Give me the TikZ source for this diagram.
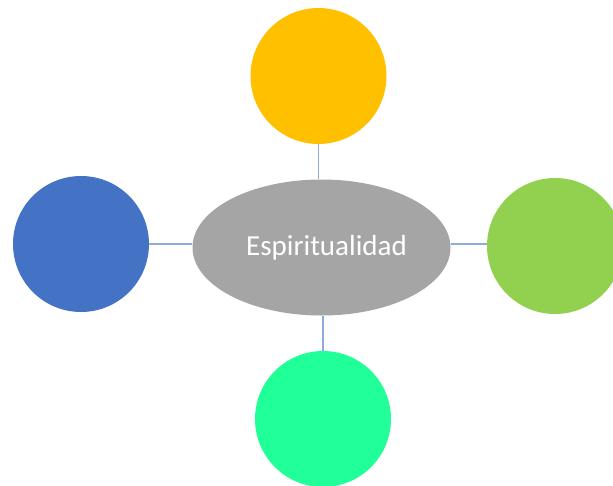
\documentclass[tikz,border=0pt]{standalone}
\usepackage{fontspec}
\setmainfont{Carlito}
\usetikzlibrary{shapes.geometric}
\definecolor{cyel}{HTML}{FFC000}
\definecolor{cblu}{HTML}{4472C4}
\definecolor{cgrn}{HTML}{92D050}
\definecolor{cmint}{HTML}{21FF99}
\definecolor{cgry}{HTML}{A5A5A5}
\definecolor{cline}{HTML}{8FAADC}
\begin{document}
\begin{tikzpicture}[x=1pt,y=-1pt,
  ball/.style={circle,minimum size=136pt,inner sep=0pt},
  conn/.style={draw=cline,line width=1.5pt}]
\useasboundingbox (0,0) rectangle (613,485);
\node[ellipse,fill=cgry,minimum width=258pt,minimum height=136pt,inner sep=0pt,
  text=white,font=\fontsize{29}{34}\selectfont] (ell) at (321.5,247.5) {\hspace*{10pt}Espiritualidad};
\node[ball,fill=cyel] (top) at (318.5,76) {};
\node[ball,fill=cblu] (left) at (81,244) {};
\node[ball,fill=cgrn] (right) at (555,246) {};
\node[ball,fill=cmint] (bot) at (323,419) {};
\draw[conn] (top.south) -- (top.south |- ell.north);
\draw[conn] (left.east) -- (left.east -| ell.west);
\draw[conn] (ell.east |- 0,244) -- (right.west |- 0,244);
\draw[conn] (bot.north |- ell.south) -- (bot.north);
\end{tikzpicture}
\end{document}
